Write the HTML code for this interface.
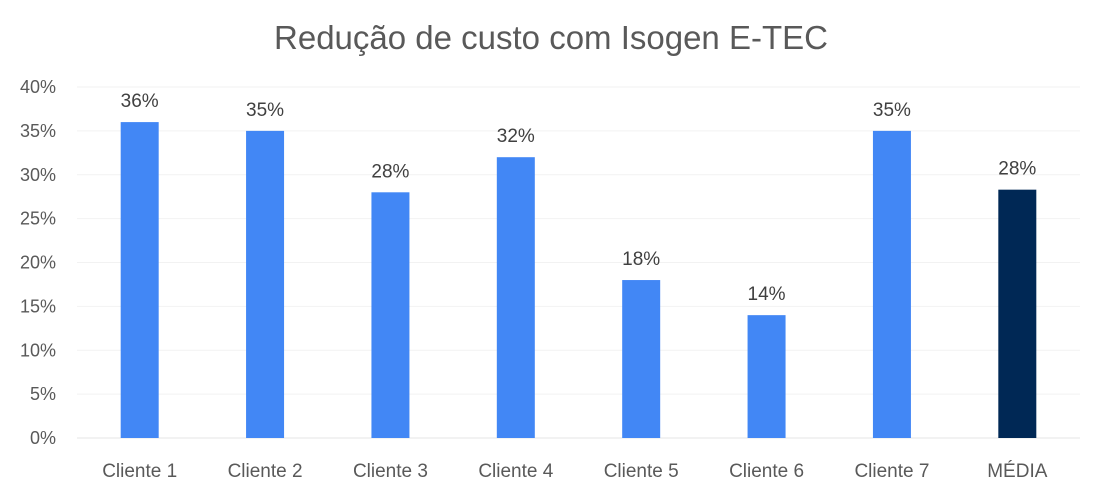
<!DOCTYPE html>
<html><head><meta charset="utf-8"><style>
html,body{margin:0;padding:0;background:#fff;}
svg{display:block;font-family:"Liberation Sans",sans-serif;}
</style></head><body>
<svg id="chart" width="1102" height="496" viewBox="0 0 1102 496" xmlns="http://www.w3.org/2000/svg">
<rect width="1102" height="496" fill="#fff"/>
<text x="551" y="49" text-anchor="middle" font-size="33" fill="#595959">Redução de custo com Isogen E-TEC</text>
<g id="grid"></g><g id="yticks"></g><g id="bars"></g><g id="labels"></g><g id="xlabels"></g>
</svg>
<script>
const categories = ["Cliente 1","Cliente 2","Cliente 3","Cliente 4","Cliente 5","Cliente 6","Cliente 7","MÉDIA"];
const values = [36, 35, 28, 32, 18, 14, 35, 28.3];
const valueLabels = ["36%","35%","28%","32%","18%","14%","35%","28%"];
const yTicks = [0,5,10,15,20,25,30,35,40];
const yTickLabels = ["0%","5%","10%","15%","20%","25%","30%","35%","40%"];

const NS="http://www.w3.org/2000/svg";
const x0=77, x1=1080, y0=438, yTop=87, yMax=40;
const band=(x1-x0)/categories.length;
const barW=38;
function yScale(v){return y0-(v/yMax)*(y0-yTop);}
function xCenter(i){return x0+band*(i+0.5);}
function mk(tag,attrs,parent){const e=document.createElementNS(NS,tag);for(const k in attrs)e.setAttribute(k,attrs[k]);document.getElementById(parent).appendChild(e);return e;}

yTicks.forEach((t,i)=>{
  const y=yScale(t);
  const l=mk('line',{x1:x0,x2:x1,y1:y,y2:y,stroke:i===0?'#e6e6e6':'#f2f2f2','stroke-width':1},'grid');
  
  
  const tx=mk('text',{x:56,y:y+6,'text-anchor':'end','font-size':18,fill:'#595959'},'yticks');
  tx.textContent=yTickLabels[i];
  
  
});
categories.forEach((c,i)=>{
  const cx=xCenter(i), y=yScale(values[i]);
  const r=mk('rect',{x:cx-barW/2,y:y,width:barW,height:y0-y,fill:i===categories.length-1?'#002855':'#4287f5'},'bars');
  
  
  const t=mk('text',{x:cx,y:y-15,'text-anchor':'middle','font-size':19,fill:'#404040'},'labels');
  t.textContent=valueLabels[i];
  
  
  const xl=mk('text',{x:cx,y:477,'text-anchor':'middle','font-size':19,fill:'#595959'},'xlabels');
  xl.textContent=c;
  
  
});
</script>
</body></html>
